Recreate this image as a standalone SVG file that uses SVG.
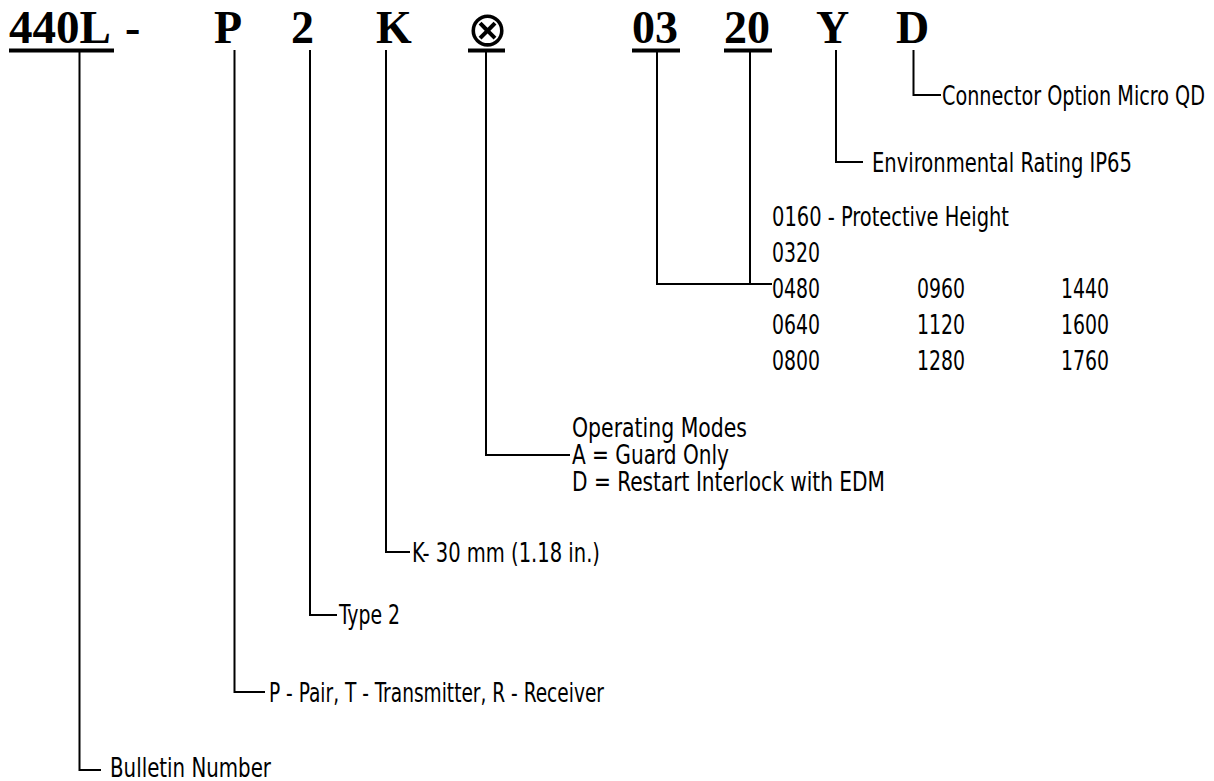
<svg xmlns="http://www.w3.org/2000/svg" width="1214" height="781" viewBox="0 0 1214 781">
<style>
.code{font-family:"Liberation Serif","Times New Roman",serif;font-weight:bold;font-size:46px;fill:#000}
.sym{font-family:"DejaVu Sans",sans-serif;font-weight:200;font-size:49px;fill:#000}
.lbl{font-family:"Liberation Sans Narrow","DejaVu Sans Condensed","Liberation Sans",sans-serif;font-size:26px;fill:#000}
.ul{fill:#000}
.conn{fill:none;stroke:#000;stroke-width:2}
</style>
<rect width="1214" height="781" fill="#fff"/>
<g id="code">
<g id="code-440L"><text class="code" x="9" y="43" textLength="102" lengthAdjust="spacingAndGlyphs">440L</text><rect class="ul" x="9" y="48.5" width="105" height="4"/></g>
<g id="code-dash"><text class="code" x="125" y="43">-</text></g>
<g id="code-P"><text class="code" x="214" y="43">P</text></g>
<g id="code-2"><text class="code" x="291" y="43">2</text></g>
<g id="code-K"><text class="code" x="376" y="43">K</text></g>
<g id="code-mode"><text class="sym" x="487" y="45.5" text-anchor="middle">⊗</text><rect class="ul" x="468" y="48.5" width="37" height="4"/></g>
<g id="code-03"><text class="code" x="632" y="43">03</text><rect class="ul" x="632" y="48.5" width="48" height="4"/></g>
<g id="code-20"><text class="code" x="724" y="43">20</text><rect class="ul" x="724" y="48.5" width="48" height="4"/></g>
<g id="code-Y"><text class="code" x="816" y="43">Y</text></g>
<g id="code-D"><text class="code" x="896" y="43">D</text></g>
</g>
<g id="connectors">
<polyline class="conn" points="913.5,50 913.5,95 941,95"/>
<polyline class="conn" points="836,50 836,162 863,162"/>
<polyline class="conn" points="657,52 657,284 772,284"/>
<line class="conn" x1="750" y1="52" x2="750" y2="284"/>
<polyline class="conn" points="486,52 486,455 570,455"/>
<polyline class="conn" points="386,50 386,552 410,552"/>
<polyline class="conn" points="310,50 310,615 337,615"/>
<polyline class="conn" points="234.5,50 234.5,692 265,692"/>
<polyline class="conn" points="79.5,52 79.5,770 101,770"/>
</g>
<g id="label-connector"><text class="lbl" x="942" y="104.5" textLength="263" lengthAdjust="spacingAndGlyphs">Connector Option Micro QD</text></g>
<g id="label-env"><text class="lbl" x="872" y="171.5" textLength="260" lengthAdjust="spacingAndGlyphs">Environmental Rating IP65</text></g>
<g id="label-height">
<text class="lbl" x="772" y="226" textLength="237" lengthAdjust="spacingAndGlyphs">0160 - Protective Height</text>
<text class="lbl" x="772" y="262" textLength="48" lengthAdjust="spacingAndGlyphs">0320</text>
<text class="lbl" x="772" y="298" textLength="48" lengthAdjust="spacingAndGlyphs">0480</text>
<text class="lbl" x="917" y="298" textLength="48" lengthAdjust="spacingAndGlyphs">0960</text>
<text class="lbl" x="1061" y="298" textLength="48" lengthAdjust="spacingAndGlyphs">1440</text>
<text class="lbl" x="772" y="334" textLength="48" lengthAdjust="spacingAndGlyphs">0640</text>
<text class="lbl" x="917" y="334" textLength="48" lengthAdjust="spacingAndGlyphs">1120</text>
<text class="lbl" x="1061" y="334" textLength="48" lengthAdjust="spacingAndGlyphs">1600</text>
<text class="lbl" x="772" y="370" textLength="48" lengthAdjust="spacingAndGlyphs">0800</text>
<text class="lbl" x="917" y="370" textLength="48" lengthAdjust="spacingAndGlyphs">1280</text>
<text class="lbl" x="1061" y="370" textLength="48" lengthAdjust="spacingAndGlyphs">1760</text>
</g>
<g id="label-modes">
<text class="lbl" x="572" y="437" textLength="175" lengthAdjust="spacingAndGlyphs">Operating Modes</text>
<text class="lbl" x="572" y="464" textLength="157" lengthAdjust="spacingAndGlyphs">A = Guard Only</text>
<text class="lbl" x="572" y="491" textLength="313" lengthAdjust="spacingAndGlyphs">D = Restart Interlock with EDM</text>
</g>
<g id="label-size"><text class="lbl" x="412" y="561.5" textLength="188" lengthAdjust="spacingAndGlyphs">K- 30 mm (1.18 in.)</text></g>
<g id="label-type"><text class="lbl" x="339" y="624" textLength="61" lengthAdjust="spacingAndGlyphs">Type 2</text></g>
<g id="label-pair"><text class="lbl" x="269" y="701.5" textLength="335" lengthAdjust="spacingAndGlyphs">P - Pair, T - Transmitter, R - Receiver</text></g>
<g id="label-bulletin"><text class="lbl" x="110" y="777" textLength="161" lengthAdjust="spacingAndGlyphs">Bulletin Number</text></g>
</svg>
